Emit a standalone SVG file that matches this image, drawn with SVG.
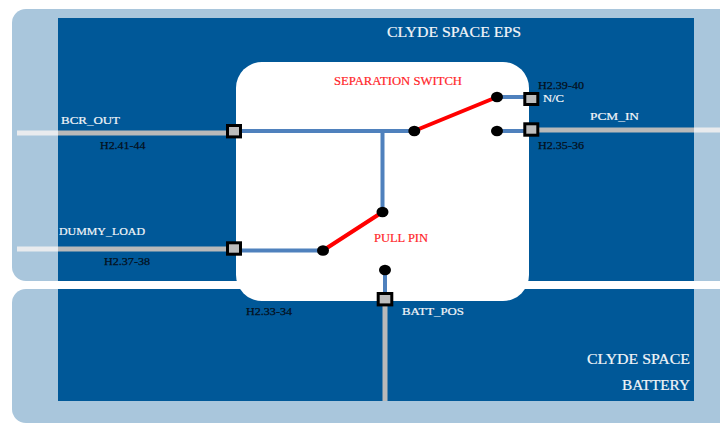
<svg xmlns="http://www.w3.org/2000/svg" width="720" height="423" viewBox="0 0 720 423">
<style>
text{font-family:"Liberation Serif","Times New Roman",serif}
.w{fill:#f2f5f8;stroke:#f2f5f8;stroke-width:.2}.k{fill:#04101c;stroke:#04101c;stroke-width:.25}.r{fill:#ff1f2a;stroke:#ff1f2a;stroke-width:.2}
.s{font-size:11px}.m{font-size:12px}.l{font-size:14px}
.wire{stroke:#4f81bd;stroke-width:4;fill:none}
.gray{stroke:#b9b9b9;stroke-width:5;fill:none}
.pale{stroke:#e9ebee;stroke-width:5;fill:none}
.arm{stroke:#ff0000;stroke-width:4;fill:none}
.term{fill:#bdbdbd;stroke:#000;stroke-width:3}
</style>
<rect width="720" height="423" fill="#fff"/>
<g id="eps-board">
<path d="M720 9H26a14 14 0 0 0-14 14V267a14 14 0 0 0 14 14H720Z" fill="#a9c6dc"/>
<rect x="58" y="18" width="636" height="263" fill="#005898"/>
</g>
<g id="battery-board">
<path d="M720 289H26a14 14 0 0 0-14 14V409a14 14 0 0 0 14 14H720Z" fill="#a9c6dc"/>
<rect x="58" y="289" width="636" height="112" fill="#005898"/>
</g>
<g id="separation-panel">
<rect x="236" y="62" width="293" height="239" rx="26" fill="#fff"/>
</g>
<g id="connectors">
<path class="pale" d="M17 133H58M17 249H58M694 130H720"/>
<path class="gray" d="M58 133H234M58 249H234M531 130H694M385 299V401"/>
<path class="wire" d="M234 131H414M382.500 131V212M497 97H531M497 131H531M234 250.500H323M385 270V299"/>
<path class="arm" d="M414 131L497 97M323 250.500L382.500 212"/>
</g>
<g id="node-bcr-out"><rect class="term" x="227.500" y="125.500" width="13" height="11.400"/></g>
<g id="node-dummy-load"><rect class="term" x="227.500" y="242.800" width="13" height="11.400"/></g>
<g id="node-nc"><rect class="term" x="524.800" y="93.500" width="13" height="11"/></g>
<g id="node-pcm-in"><rect class="term" x="524.800" y="123.800" width="13" height="11.400"/></g>
<g id="node-batt-pos"><rect class="term" x="378.200" y="293.500" width="13.600" height="11.400"/></g>
<g id="switch-contacts" fill="#000">
<ellipse cx="414.300" cy="131" rx="6" ry="5.300"/>
<ellipse cx="497" cy="97" rx="6" ry="5.300"/>
<ellipse cx="497" cy="131" rx="6" ry="5.300"/>
<ellipse cx="382.500" cy="212" rx="6" ry="5.300"/>
<ellipse cx="323" cy="250.500" rx="6" ry="5.300"/>
<ellipse cx="385" cy="270" rx="6" ry="5.300"/>
</g>
<g id="labels">
<text class="w l" x="387" y="37" textLength="134" lengthAdjust="spacingAndGlyphs">CLYDE SPACE EPS</text>
<text class="r m" x="334" y="85" textLength="128" lengthAdjust="spacingAndGlyphs">SEPARATION SWITCH</text>
<text class="r m" x="374" y="242" textLength="54" lengthAdjust="spacingAndGlyphs">PULL PIN</text>
<text class="w s" x="61" y="124" textLength="59" lengthAdjust="spacingAndGlyphs">BCR_OUT</text>
<text class="k s" x="100" y="149" textLength="45.500" lengthAdjust="spacingAndGlyphs">H2.41-44</text>
<text class="w s" x="59" y="235" textLength="86" lengthAdjust="spacingAndGlyphs">DUMMY_LOAD</text>
<text class="k s" x="104" y="265" textLength="46" lengthAdjust="spacingAndGlyphs">H2.37-38</text>
<text class="k s" x="246" y="315" textLength="46" lengthAdjust="spacingAndGlyphs">H2.33-34</text>
<text class="w s" x="402" y="315" textLength="62" lengthAdjust="spacingAndGlyphs">BATT_POS</text>
<text class="k s" x="538" y="89" textLength="46" lengthAdjust="spacingAndGlyphs">H2.39-40</text>
<text class="w s" x="543" y="102" textLength="21" lengthAdjust="spacingAndGlyphs">N/C</text>
<text class="w s" x="590" y="120" textLength="49" lengthAdjust="spacingAndGlyphs">PCM_IN</text>
<text class="k s" x="538" y="149" textLength="46" lengthAdjust="spacingAndGlyphs">H2.35-36</text>
<text class="w l" x="587" y="364" textLength="103" lengthAdjust="spacingAndGlyphs">CLYDE SPACE</text>
<text class="w l" x="622" y="390" textLength="68" lengthAdjust="spacingAndGlyphs">BATTERY</text>
</g>
</svg>
